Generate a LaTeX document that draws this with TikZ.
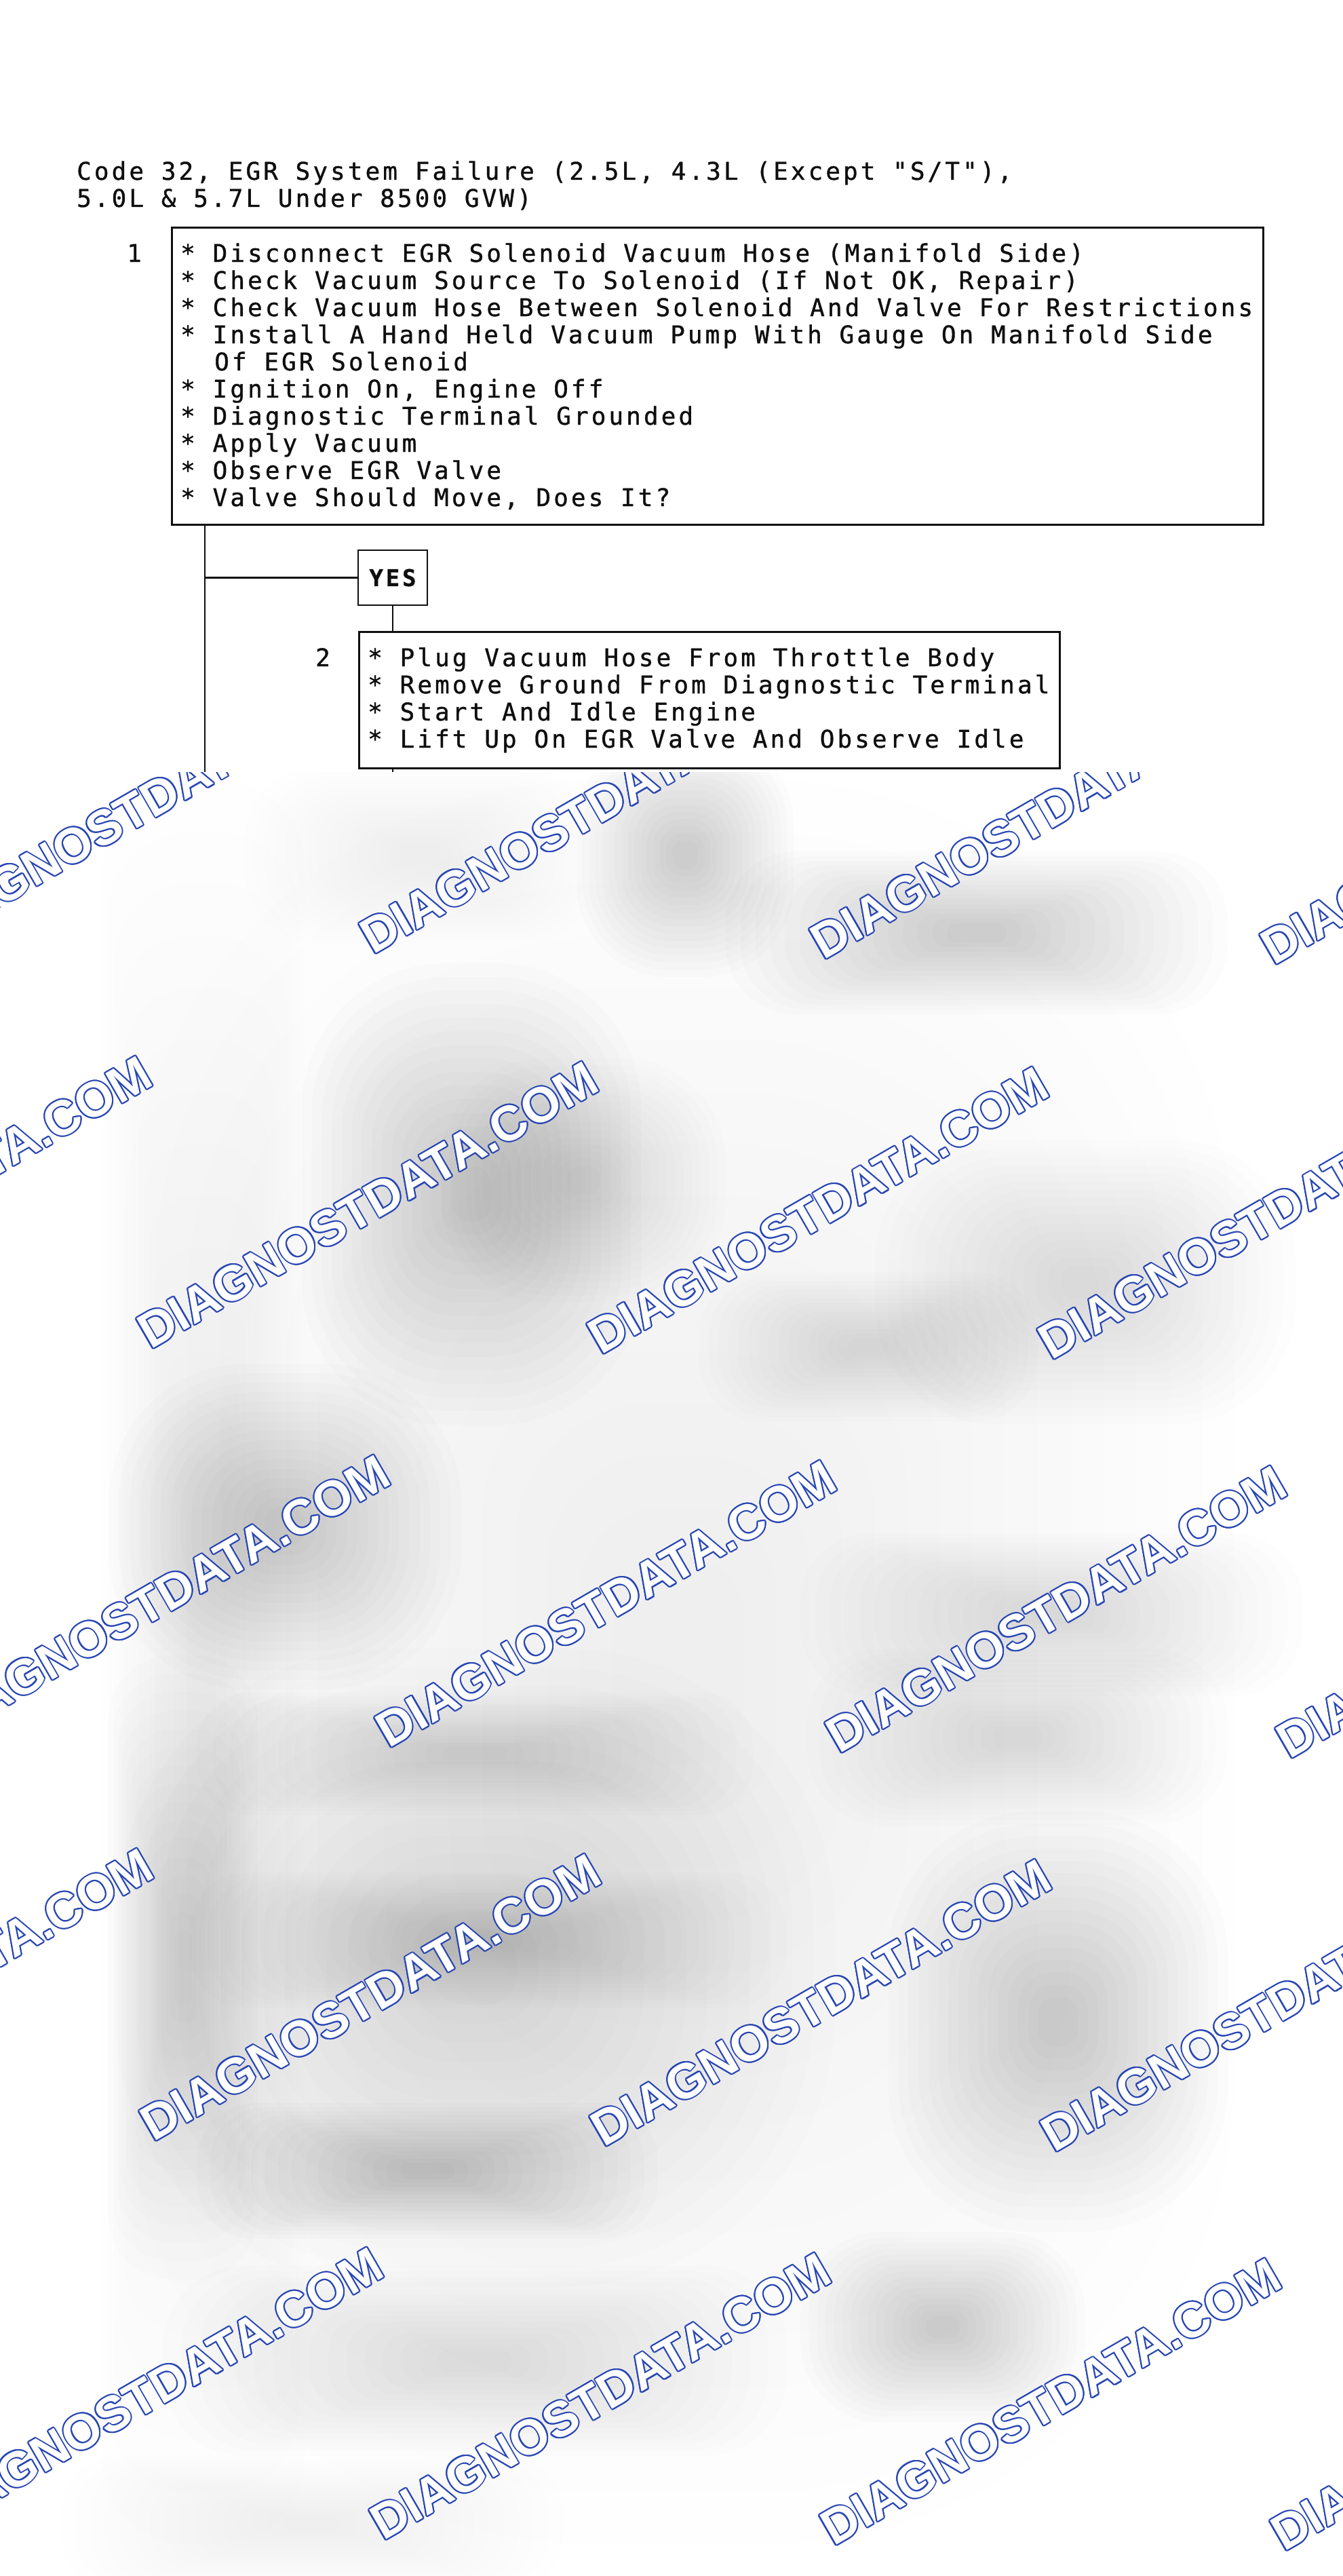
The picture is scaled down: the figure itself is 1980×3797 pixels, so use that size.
\documentclass[tikz,border=0pt]{standalone}
\usepackage{fontspec}
\usepackage[copies]{contour}
\setmonofont[LetterSpace=11.3,FakeBold=1]{DejaVu Sans Mono}
\newfontfamily\wmfont{Liberation Sans}
\definecolor{wmblue}{RGB}{40,70,180}
\definecolor{ink}{RGB}{15,15,15}
\contourlength{2pt}
\contournumber{16}
\newcommand\haze[5]{%
  \foreach \k in {0,...,15}{%
    \pgfmathsetmacro\hx{#3*(1-\k/17)}%
    \pgfmathsetmacro\hy{#4*(1-\k/17)}%
    \pgfmathsetmacro\hr{0.85*min(\hx,\hy)}%
    \pgfmathsetmacro\ho{#5*0.62}%
    \fill[black,opacity=\ho,rounded corners=\hr pt] ({#1-\hx},{#2-\hy}) rectangle ({#1+\hx},{#2+\hy});
  }}
\tikzset{
  mono/.style={font=\ttfamily\fontsize{36}{40}\selectfont, text=ink, inner sep=0pt, anchor=base west},
  boxline/.style={draw=ink, line width=2.8pt, inner sep=0pt},
  conn/.style={draw=ink, line width=2.3pt},
  wm/.style={rotate=30, anchor=base west, inner sep=0pt, text=white,
    font=\wmfont\bfseries\fontsize{73}{80}\selectfont},
}
\begin{document}
\begin{tikzpicture}[x=1pt,y=-1pt]
\useasboundingbox (0,0) rectangle (1980,3797);
\fill[white] (0,0) rectangle (1980,3797);

% ---- title
\node[mono] (title1) at (113,265) {Code 32, EGR System Failure (2.5L, 4.3L (Except "S/T"),};
\node[mono] (title2) at (113,305) {5.0L \& 5.7L Under 8500 GVW)};

% ---- box 1
\node[boxline, minimum width=1609pt, minimum height=438pt, anchor=north west] (box1) at (252,334) {};
\node[mono] (n1) at (187,386) {1};
\node[mono] (l1a) at (266,386) {* Disconnect EGR Solenoid Vacuum Hose (Manifold Side)};
\node[mono] (l1b) at (266,426) {* Check Vacuum Source To Solenoid (If Not OK, Repair)};
\node[mono] (l1c) at (266,466) {* Check Vacuum Hose Between Solenoid And Valve For Restrictions};
\node[mono] (l1d) at (266,506) {* Install A Hand Held Vacuum Pump With Gauge On Manifold Side};
\node[mono] (l1e) at (316,546) {Of EGR Solenoid};
\node[mono] (l1f) at (266,586) {* Ignition On, Engine Off};
\node[mono] (l1g) at (266,626) {* Diagnostic Terminal Grounded};
\node[mono] (l1h) at (266,666) {* Apply Vacuum};
\node[mono] (l1i) at (266,706) {* Observe EGR Valve};
\node[mono] (l1j) at (266,746) {* Valve Should Move, Does It?};

% ---- YES
\node[boxline, minimum width=102pt, minimum height=81pt, font=\ttfamily\bfseries\fontsize{34}{40}\selectfont, text=ink] (yes) at (579,851.5) {YES};

% ---- box 2
\node[boxline, minimum width=1033pt, minimum height=201pt, anchor=north west] (box2) at (528,930) {};
\node[mono] (n2) at (465,982) {2};
\node[mono] (l2a) at (542,982) {* Plug Vacuum Hose From Throttle Body};
\node[mono] (l2b) at (542,1022) {* Remove Ground From Diagnostic Terminal};
\node[mono] (l2c) at (542,1062) {* Start And Idle Engine};
\node[mono] (l2d) at (542,1102) {* Lift Up On EGR Valve And Observe Idle};

% ---- connectors
\coordinate (vend) at (302,1140);
\coordinate (v2end) at (579,1140);
\draw[conn] (box1.south -| vend) -- (vend);
\draw[conn] (yes.west) -- (yes.west -| vend);
\draw[conn] (yes.south) -- (box2.north -| yes.south);
\draw[conn] (box2.south -| v2end) -- (v2end);

% ---- blurred lower part with watermarks
\begin{scope}
\clip (0,1138) rectangle (1980,3797);
\fill[white] (0,1138) rectangle (1980,3797);
\haze{1000}{2450}{820}{1300}{0.004}
\haze{300}{2450}{150}{1300}{0.006}
\haze{620}{1260}{260}{130}{0.008}
\haze{1010}{1260}{160}{180}{0.016}
\haze{1440}{1375}{370}{120}{0.022}
\haze{695}{1760}{250}{340}{0.018}
\haze{860}{1740}{210}{180}{0.015}
\haze{1600}{1890}{310}{210}{0.012}
\haze{420}{2250}{260}{240}{0.02}
\haze{1280}{1985}{250}{110}{0.01}
\haze{1550}{2380}{370}{120}{0.01}
\haze{700}{2900}{530}{470}{0.01}
\haze{700}{2585}{410}{90}{0.015}
\haze{720}{2860}{440}{100}{0.015}
\haze{630}{3200}{340}{100}{0.02}
\haze{270}{2900}{110}{460}{0.012}
\haze{1560}{2980}{250}{310}{0.018}
\haze{1500}{2560}{310}{130}{0.01}
\haze{1390}{3430}{210}{140}{0.018}
\haze{700}{3480}{460}{140}{0.01}
\foreach \k in {0,...,15}{%
  \pgfmathsetmacro\hx{370*(1-\k/17)}%
  \pgfmathsetmacro\hy{100*(1-\k/17)}%
  \pgfmathsetmacro\hr{0.85*\hy}%
  \fill[wmblue,opacity=0.004,rounded corners=\hr pt] ({460-\hx},{3720-\hy}) rectangle ({460+\hx},{3720+\hy});
}
\foreach \x/\y [count=\i] in {
  -108/1400, 550/1408, 1214/1416, 1878/1424,
  -436/1982, 222/1990, 886/1998, 1550/2006,
  -85/2570, 573/2578, 1237/2586, 1901/2594,
  -434/3150, 226/3158, 890/3166, 1554/3174,
  -95/3738, 565/3746, 1229/3754, 1893/3762}
  \node[wm] (wm\i) at (\x,\y) {\contour{wmblue}{DIAGNOSTDATA.COM}};
\end{scope}
\end{tikzpicture}
\end{document}
